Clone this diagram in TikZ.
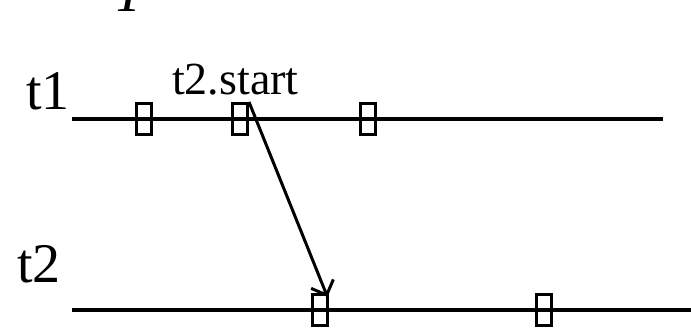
\documentclass[tikz,border=0pt]{standalone}
\usepackage{fontspec}
\setmainfont{Liberation Serif}
\usetikzlibrary{arrows.meta,calc,positioning}

\tikzset{
  mark box/.style={draw,line width=3pt,minimum width=15pt,minimum height=31pt,inner sep=0pt},
  big label/.style={inner sep=0pt,font=\fontsize{56}{60}\selectfont},
}

\begin{document}
\begin{tikzpicture}[>={Straight Barb[length=12pt,width=24pt]},x=1pt,y=1pt]
    \useasboundingbox (0,0) rectangle (691,328);

    % clipped title letter at the top
    \node[big label,anchor=base] (title) at (129,316) {\itshape T};

    % time lines
    \coordinate (s1) at (72,209);
    \coordinate (e1) at (663,209);
    \coordinate (s2) at (72,18);
    \coordinate (e2) at (691,18);
    \draw[line width=4pt] (s1) -- (e1);
    \draw[line width=4pt] (s2) -- (e2);
    \node[big label,anchor=base east] (t1) at (70,218) {t1};
    \node[big label,anchor=base east] (t2) at (61,45) {t2};

    % events
    \node[mark box] (a1) at (144,209) {};
    \node[mark box] (a2) at (240,209) {};
    \node[mark box] (a3) at (367.5,209) {};
    \node[mark box] (b1) at (319.5,18) {};
    \node[mark box] (b2) at (543.5,18) {};

    \node[inner sep=0pt,anchor=base west,font=\fontsize{46}{50}\selectfont] (lab) at (172,233) {t2.start};

    \draw[->,line width=3pt] (a2.north east) -- ($(b1.north east)+(-1,-4)$);
  \end{tikzpicture}
\end{document}
